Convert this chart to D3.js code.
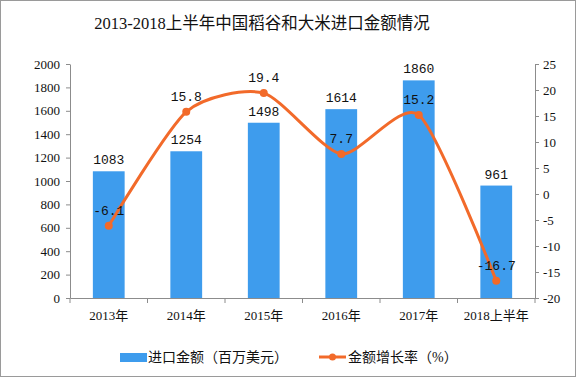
<!DOCTYPE html>
<html><head><meta charset="utf-8">
<script src="https://cdn.jsdelivr.net/npm/d3@7"></script>
<style>body{margin:0;background:#fff}svg{display:block}</style>
</head><body>
<svg id="c" width="576" height="377"></svg>
<script>
const categories = ["2013年","2014年","2015年","2016年","2017年","2018上半年"];
const importValues = [1083,1254,1498,1614,1860,961];
const growthRates = [-6.1,15.8,19.4,7.7,15.2,-16.7];
const leftTicks = [0,200,400,600,800,1000,1200,1400,1600,1800,2000];
const rightTicks = [-20,-15,-10,-5,0,5,10,15,20,25];
const title = "2013-2018上半年中国稻谷和大米进口金额情况";
const legendBar = "进口金额（百万美元）";
const legendLine = "金额增长率（%）";

const svg = d3.select("#c");
const W=576,H=377;
const L=70,R=535,T=64,B=298;
const barColor="#3e9ced", lineColor="#f26a2a", axisColor="#8c8c8c";
const numFont='"Liberation Mono","DejaVu Sans Mono",monospace';
const cjk='"Liberation Serif","Noto Sans CJK SC",serif';

svg.append("rect").attr("x",0.5).attr("y",0.5).attr("width",W-1).attr("height",H-1).attr("fill","#fff").attr("stroke","#9a9a9a");

svg.append("text").attr("x",262).attr("y",29).attr("text-anchor","middle")
  .attr("font-family",cjk).attr("font-size",16.5).attr("fill","#111").text(title);

const x = d3.scaleBand().domain(categories).range([L,R]).paddingInner(0).paddingOuter(0);
const yL = d3.scaleLinear().domain([0,2000]).range([B,T]);
const yR = d3.scaleLinear().domain([-20,25]).range([B,T]);
const bw = x.bandwidth()*0.41;

// bars
svg.append("g").selectAll("rect").data(importValues).join("rect")
  .attr("x",(d,i)=>x(categories[i])+x.bandwidth()/2-bw/2)
  .attr("y",d=>yL(d)).attr("width",bw).attr("height",d=>B-yL(d)).attr("fill",barColor);

// axes
const gl = svg.append("g").attr("transform",`translate(${L},0)`)
  .call(d3.axisLeft(yL).tickValues(leftTicks).tickSize(4).tickSizeOuter(0).tickPadding(6).tickFormat(d3.format("d")));
const gr = svg.append("g").attr("transform",`translate(${R},0)`)
  .call(d3.axisRight(yR).tickValues(rightTicks).tickSize(4).tickSizeOuter(0).tickPadding(4).tickFormat(d=>String(d)));
const gb = svg.append("g").attr("transform",`translate(0,${B})`)
  .call(d3.axisBottom(x).tickSize(0).tickPadding(13));
[gl,gr,gb].forEach(g=>{
  g.select(".domain").attr("stroke",axisColor);
  g.selectAll(".tick line").attr("stroke",axisColor);
  g.selectAll("text").attr("font-family",cjk).attr("font-size",13).attr("fill","#111");
});
// bottom ticks at band boundaries
const bounds = categories.map(c=>x(c)).concat([R]);
svg.append("g").selectAll("line").data(bounds).join("line")
  .attr("x1",d=>d).attr("x2",d=>d).attr("y1",B).attr("y2",B+5).attr("stroke",axisColor);

// line
const pts = growthRates.map((v,i)=>[x(categories[i])+x.bandwidth()/2, yR(v)]);
svg.append("path").attr("d",d3.line().curve(d3.curveCardinal.tension(0.3))(pts))
  .attr("fill","none").attr("stroke",lineColor).attr("stroke-width",3);
svg.append("g").selectAll("circle").data(pts).join("circle")
  .attr("cx",d=>d[0]).attr("cy",d=>d[1]).attr("r",4).attr("fill",lineColor);

// labels
svg.append("g").selectAll("text").data(importValues).join("text")
  .attr("x",(d,i)=>x(categories[i])+x.bandwidth()/2).attr("y",d=>yL(d)-7)
  .attr("text-anchor","middle").attr("font-family",numFont).attr("font-size",13).attr("fill","#111").text(d=>d);
svg.append("g").selectAll("text").data(growthRates).join("text")
  .attr("x",(d,i)=>pts[i][0]).attr("y",(d,i)=>pts[i][1]-11)
  .attr("text-anchor","middle").attr("font-family",numFont).attr("font-size",13).attr("fill","#111").text(d=>d);

// legend
const ly=357;
svg.append("rect").attr("x",120).attr("y",ly-4).attr("width",27).attr("height",9).attr("fill",barColor);
svg.append("text").attr("x",148).attr("y",ly+5).attr("font-family",cjk).attr("font-size",14).attr("fill","#111").text(legendBar);
svg.append("line").attr("x1",319).attr("x2",346).attr("y1",ly).attr("y2",ly).attr("stroke",lineColor).attr("stroke-width",3);
svg.append("circle").attr("cx",332.5).attr("cy",ly).attr("r",3.5).attr("fill",lineColor);
svg.append("text").attr("x",348).attr("y",ly+5).attr("font-family",cjk).attr("font-size",14).attr("fill","#111").text(legendLine);
</script>
</body></html>
